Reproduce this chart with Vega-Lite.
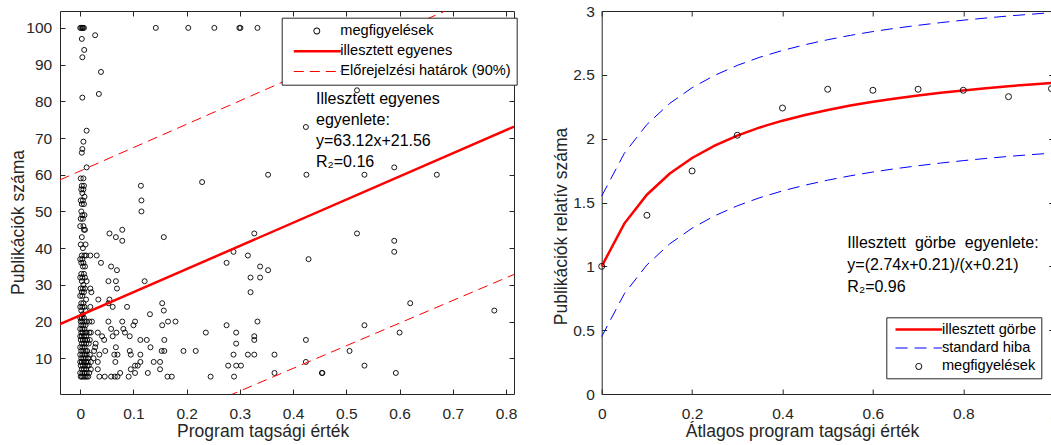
{
"$schema": "https://vega.github.io/schema/vega-lite/v6.json",
"padding": {"left": 8, "top": 3, "right": 0, "bottom": 0},
"bounds": "flush",
"spacing": 87.7,
"config": {
  "view": {"stroke": "#262626", "strokeWidth": 1},
  "font": "Liberation Sans",
  "axis": {"grid": false, "domain": false, "ticks": true, "tickColor": "#262626", "tickSize": -5, "tickWidth": 1, "labelColor": "#262626", "labelFontSize": 15.5, "labelFont": "Liberation Sans", "titleColor": "#262626", "titleFontSize": 17.5, "titleFont": "Liberation Sans", "titleFontWeight": "normal", "labelFlush": false, "labelOverlap": false},
  "legend": {"labelFont": "Liberation Sans", "labelFontSize": 14.6, "labelColor": "black", "labelLimit": 400, "strokeColor": "#262626", "fillColor": "white", "cornerRadius": 0, "symbolSize": 36, "symbolStrokeWidth": 0}
},
"resolve": {"scale": {"x": "independent", "y": "independent", "color": "independent", "shape": "independent"}},
"datasets": {
  "obs1": [
    {"x":0,"y":100},{"x":0.002,"y":100},{"x":0.004,"y":100},{"x":0.005,"y":100},{"x":0.007,"y":100},
    {"x":0.001,"y":59},{"x":0.006,"y":59},{"x":0.003,"y":57},{"x":0.007,"y":57},{"x":0.002,"y":56},{"x":0.006,"y":56},{"x":0.004,"y":55},{"x":0.008,"y":54},{"x":0.001,"y":53},{"x":0.005,"y":53},{"x":0.003,"y":52},{"x":0.007,"y":52},{"x":0.002,"y":50},{"x":0.004,"y":49},{"x":0.008,"y":49},{"x":0.001,"y":48},{"x":0.005,"y":48},{"x":0,"y":46},{"x":0.006,"y":46},{"x":0.009,"y":45},{"x":0.007,"y":45},{"x":0.003,"y":43},{"x":0.001,"y":41},{"x":0.01,"y":41},{"x":0.005,"y":40},{"x":0.003,"y":38},{"x":0.008,"y":38},{"x":0.011,"y":38},{"x":0,"y":37},{"x":0.004,"y":37},{"x":0.002,"y":36},{"x":0.006,"y":36},{"x":0.005,"y":35},{"x":0.009,"y":35},{"x":0.002,"y":33},{"x":0.007,"y":33},{"x":0,"y":32},{"x":0.004,"y":32},{"x":0.009,"y":32},{"x":0.003,"y":31},{"x":0.012,"y":31},{"x":0.006,"y":30},{"x":0.001,"y":29},{"x":0.005,"y":29},{"x":0.009,"y":29},{"x":0.003,"y":28},{"x":0.007,"y":28},{"x":0,"y":27},{"x":0.004,"y":27},{"x":0.011,"y":26},{"x":0.002,"y":25},{"x":0.006,"y":25},{"x":0,"y":24},{"x":0.004,"y":24},{"x":0.008,"y":24},{"x":0.002,"y":23},{"x":0.01,"y":23},{"x":0.005,"y":22},{"x":0,"y":21},{"x":0.003,"y":21},{"x":0.007,"y":21},{"x":0.001,"y":20},{"x":0.004,"y":20},{"x":0.008,"y":20},{"x":0.012,"y":20},{"x":0.002,"y":19},{"x":0.006,"y":19},{"x":0.01,"y":19},{"x":0,"y":18},{"x":0.004,"y":18},{"x":0.008,"y":18},{"x":0.002,"y":17},{"x":0.005,"y":17},{"x":0.009,"y":17},{"x":0.012,"y":17},{"x":0,"y":16},{"x":0.003,"y":16},{"x":0.007,"y":16},{"x":0.011,"y":16},{"x":0.001,"y":15},{"x":0.005,"y":15},{"x":0.009,"y":15},{"x":0.013,"y":15},{"x":0.003,"y":14},{"x":0.007,"y":14},{"x":0.011,"y":14},{"x":0,"y":13},{"x":0.004,"y":13},{"x":0.008,"y":13},{"x":0.002,"y":12},{"x":0.006,"y":12},{"x":0.01,"y":12},{"x":0.013,"y":12},{"x":0,"y":11},{"x":0.004,"y":11},{"x":0.008,"y":11},{"x":0.012,"y":11},{"x":0.002,"y":10},{"x":0.006,"y":10},{"x":0.01,"y":10},{"x":0,"y":9},{"x":0.003,"y":9},{"x":0.007,"y":9},{"x":0.011,"y":9},{"x":0.014,"y":9},{"x":0.001,"y":8},{"x":0.005,"y":8},{"x":0.009,"y":8},{"x":0.013,"y":8},{"x":0.003,"y":7},{"x":0.007,"y":7},{"x":0.011,"y":7},{"x":0,"y":6},{"x":0.004,"y":6},{"x":0.008,"y":6},{"x":0.012,"y":6},{"x":0.001,"y":5},{"x":0.003,"y":5},{"x":0.006,"y":5},{"x":0.009,"y":5},{"x":0.012,"y":5},{"x":0.015,"y":5},
    {"x":0.019,"y":38},{"x":0.019,"y":29},{"x":0.021,"y":28},{"x":0.019,"y":24},{"x":0.017,"y":20},{"x":0.017,"y":17},{"x":0.018,"y":15},{"x":0.016,"y":14},{"x":0.026,"y":12},{"x":0.02,"y":9},{"x":0.018,"y":11},{"x":0.02,"y":7},{"x":0.017,"y":6},{"x":0.022,"y":20},{"x":0.02,"y":17},{"x":0.015,"y":10},{"x":0.016,"y":8},{"x":0.025,"y":10},{"x":0.028,"y":13},
    {"x":0.142,"y":100},{"x":0.203,"y":100},{"x":0.252,"y":100},{"x":0.299,"y":100},{"x":0.301,"y":100},{"x":0.333,"y":100},
    {"x":0.028,"y":98},{"x":0.003,"y":97},{"x":0.0075,"y":94},{"x":0.004,"y":92},{"x":0.039,"y":88},{"x":0.52,"y":83},{"x":0.035,"y":82},{"x":0.004,"y":81},{"x":0.424,"y":73},{"x":0.012,"y":72},{"x":0.006,"y":69},{"x":0.004,"y":67},{"x":0.003,"y":66},{"x":0.012,"y":62},{"x":0.59,"y":62},{"x":0.353,"y":60},{"x":0.425,"y":60},{"x":0.534,"y":60},{"x":0.67,"y":60},{"x":0.229,"y":58},{"x":0.114,"y":57},{"x":0.115,"y":53},{"x":0.115,"y":50},{"x":0.055,"y":44},{"x":0.327,"y":44},{"x":0.52,"y":44},{"x":0.079,"y":45},{"x":0.067,"y":43},{"x":0.157,"y":43},{"x":0.079,"y":42},{"x":0.59,"y":42},{"x":0.288,"y":39},{"x":0.59,"y":39},{"x":0.031,"y":38},{"x":0.315,"y":38},{"x":0.429,"y":37},{"x":0.039,"y":36},{"x":0.275,"y":36},{"x":0.058,"y":35},{"x":0.338,"y":35},{"x":0.069,"y":34},{"x":0.353,"y":34},{"x":0.32,"y":32},{"x":0.338,"y":32},{"x":0.053,"y":31},{"x":0.067,"y":31},{"x":0.121,"y":31},{"x":0.069,"y":29},{"x":0.32,"y":28},{"x":0.034,"y":26},{"x":0.055,"y":26},{"x":0.154,"y":25},{"x":0.053,"y":25},{"x":0.62,"y":25},{"x":0.061,"y":24},{"x":0.088,"y":24},{"x":0.157,"y":23},{"x":0.778,"y":23},{"x":0.131,"y":22},{"x":0.053,"y":20},{"x":0.079,"y":20},{"x":0.103,"y":20},{"x":0.165,"y":20},{"x":0.179,"y":20},{"x":0.333,"y":20},{"x":0.1,"y":19},{"x":0.154,"y":19},{"x":0.275,"y":19},{"x":0.534,"y":19},{"x":0.058,"y":18},{"x":0.081,"y":18},{"x":0.033,"y":17},{"x":0.068,"y":17},{"x":0.084,"y":17},{"x":0.236,"y":17},{"x":0.293,"y":17},{"x":0.6,"y":17},{"x":0.041,"y":16},{"x":0.061,"y":16},{"x":0.093,"y":16},{"x":0.327,"y":16},{"x":0.045,"y":15},{"x":0.113,"y":15},{"x":0.125,"y":15},{"x":0.158,"y":15},{"x":0.327,"y":15},{"x":0.424,"y":15},{"x":0.293,"y":14},{"x":0.029,"y":14},{"x":0.067,"y":13},{"x":0.132,"y":13},{"x":0.047,"y":12},{"x":0.093,"y":12},{"x":0.153,"y":12},{"x":0.158,"y":12},{"x":0.194,"y":12},{"x":0.217,"y":12},{"x":0.506,"y":12},{"x":0.036,"y":11},{"x":0.064,"y":11},{"x":0.07,"y":11},{"x":0.095,"y":11},{"x":0.113,"y":11},{"x":0.288,"y":11},{"x":0.315,"y":11},{"x":0.327,"y":11},{"x":0.365,"y":11},{"x":0.033,"y":9},{"x":0.066,"y":9},{"x":0.113,"y":9},{"x":0.138,"y":9},{"x":0.15,"y":9},{"x":0.424,"y":9},{"x":0.103,"y":8},{"x":0.108,"y":8},{"x":0.278,"y":8},{"x":0.293,"y":8},{"x":0.302,"y":8},{"x":0.534,"y":8},{"x":0.033,"y":7},{"x":0.095,"y":7},{"x":0.15,"y":7},{"x":0.075,"y":6},{"x":0.127,"y":6},{"x":0.103,"y":6},{"x":0.365,"y":6},{"x":0.454,"y":6},{"x":0.455,"y":6},{"x":0.593,"y":6},{"x":0.036,"y":5},{"x":0.046,"y":5},{"x":0.058,"y":5},{"x":0.065,"y":5},{"x":0.07,"y":5},{"x":0.091,"y":5},{"x":0.164,"y":5},{"x":0.172,"y":5},{"x":0.245,"y":5},{"x":0.289,"y":5}
  ],
  "fit1": [{"x":-0.038,"y":19.3},{"x":0.815,"y":73.1}],
  "band1": [
    {"b":"u","x":-0.038,"y":58.6},{"b":"u","x":0.4,"y":86.5},{"b":"u","x":0.85,"y":115},
    {"b":"l","x":0.25,"y":-2.0},{"b":"l","x":0.55,"y":16.5},{"b":"l","x":0.85,"y":35.0}
  ],
  "note1": [
    {"x":0.443,"y":79.16,"t":"Illesztett egyenes"},
    {"x":0.443,"y":73.43,"t":"egyenlete:"},
    {"x":0.443,"y":67.71,"t":"y=63.12x+21.56"},
    {"x":0.443,"y":61.99,"t":"R₂=0.16"}
  ],
  "leg1": [{"s":"megfigyelések"},{"s":"illesztett egyenes"},{"s":"Előrejelzési határok (90%)"}],
  "curve2": [
    {"x":0,"y":1.0},{"x":0.05,"y":1.335},{"x":0.1,"y":1.561},{"x":0.15,"y":1.725},{"x":0.2,"y":1.849},{"x":0.25,"y":1.946},{"x":0.3,"y":2.024},{"x":0.35,"y":2.088},{"x":0.4,"y":2.141},{"x":0.45,"y":2.186},{"x":0.5,"y":2.225},{"x":0.55,"y":2.259},{"x":0.6,"y":2.289},{"x":0.65,"y":2.315},{"x":0.7,"y":2.338},{"x":0.75,"y":2.359},{"x":0.8,"y":2.378},{"x":0.85,"y":2.395},{"x":0.9,"y":2.411},{"x":0.95,"y":2.425},{"x":1.0,"y":2.438}
  ],
  "band2": [
    {"b":"u","x":0,"y":1.55},{"b":"u","x":0.05,"y":1.885},{"b":"u","x":0.1,"y":2.111},{"b":"u","x":0.15,"y":2.275},{"b":"u","x":0.2,"y":2.399},{"b":"u","x":0.25,"y":2.496},{"b":"u","x":0.3,"y":2.574},{"b":"u","x":0.35,"y":2.638},{"b":"u","x":0.4,"y":2.691},{"b":"u","x":0.45,"y":2.736},{"b":"u","x":0.5,"y":2.775},{"b":"u","x":0.55,"y":2.809},{"b":"u","x":0.6,"y":2.839},{"b":"u","x":0.65,"y":2.865},{"b":"u","x":0.7,"y":2.888},{"b":"u","x":0.75,"y":2.909},{"b":"u","x":0.8,"y":2.928},{"b":"u","x":0.85,"y":2.945},{"b":"u","x":0.9,"y":2.961},{"b":"u","x":0.95,"y":2.975},{"b":"u","x":1.0,"y":2.988},
    {"b":"l","x":0,"y":0.45},{"b":"l","x":0.05,"y":0.785},{"b":"l","x":0.1,"y":1.011},{"b":"l","x":0.15,"y":1.175},{"b":"l","x":0.2,"y":1.299},{"b":"l","x":0.25,"y":1.396},{"b":"l","x":0.3,"y":1.474},{"b":"l","x":0.35,"y":1.538},{"b":"l","x":0.4,"y":1.591},{"b":"l","x":0.45,"y":1.636},{"b":"l","x":0.5,"y":1.675},{"b":"l","x":0.55,"y":1.709},{"b":"l","x":0.6,"y":1.739},{"b":"l","x":0.65,"y":1.765},{"b":"l","x":0.7,"y":1.788},{"b":"l","x":0.75,"y":1.809},{"b":"l","x":0.8,"y":1.828},{"b":"l","x":0.85,"y":1.845},{"b":"l","x":0.9,"y":1.861},{"b":"l","x":0.95,"y":1.875},{"b":"l","x":1.0,"y":1.888}
  ],
  "obs2": [
    {"x":0,"y":1.0},{"x":0.1,"y":1.4},{"x":0.2,"y":1.747},{"x":0.3,"y":2.027},{"x":0.4,"y":2.24},{"x":0.5,"y":2.387},{"x":0.6,"y":2.379},{"x":0.7,"y":2.387},{"x":0.8,"y":2.379},{"x":0.9,"y":2.329},{"x":0.995,"y":2.392}
  ],
  "note2": [
    {"x":0.5435,"y":1.14,"t":"Illesztett\u00a0 görbe\u00a0 egyenlete:"},
    {"x":0.5435,"y":0.971,"t":"y=(2.74x+0.21)/(x+0.21)"},
    {"x":0.5435,"y":0.799,"t":"R₂=0.96"}
  ],
  "leg2": [{"s2":"illesztett görbe"},{"s2":"standard hiba"},{"s2":"megfigyelések"}]
},
"hconcat": [
  {
    "width": 454, "height": 383,
    "resolve": {"axis": {"x": "independent", "y": "independent"}},
    "layer": [
      {
        "data": {"name": "obs1"},
        "mark": {"type": "point", "shape": "circle", "filled": false, "size": 25, "strokeWidth": 0.9, "color": "black", "opacity": 1},
        "encoding": {
          "x": {"field": "x", "type": "quantitative", "scale": {"domain": [-0.038, 0.815], "nice": false, "zero": false},
                "axis": {"orient": "bottom", "values": [0,0.1,0.2,0.3,0.4,0.5,0.6,0.7,0.8], "format": "~r", "labelPadding": 17, "title": "Program tagsági érték", "titleX": 202.7, "titleY": 37.7, "titleBaseline": "middle", "titleAlign": "center"}},
          "y": {"field": "y", "type": "quantitative", "scale": {"domain": [0.27, 104.6], "nice": false, "zero": false},
                "axis": {"orient": "left", "values": [10,20,30,40,50,60,70,80,90,100], "format": "~r", "labelPadding": 13.3, "title": "Publikációk száma", "titleX": -42, "titleY": 211, "titleBaseline": "middle", "titleAlign": "center"}}
        }
      },
      {
        "data": {"name": "fit1"},
        "mark": {"type": "line", "color": "#ff0000", "strokeWidth": 2.5, "clip": true},
        "encoding": {
          "x": {"field": "x", "type": "quantitative", "axis": {"orient": "top", "values": [0,0.1,0.2,0.3,0.4,0.5,0.6,0.7,0.8], "labels": false, "title": null}},
          "y": {"field": "y", "type": "quantitative", "axis": {"orient": "right", "values": [10,20,30,40,50,60,70,80,90,100], "labels": false, "title": null}}
        }
      },
      {
        "data": {"name": "band1"},
        "mark": {"type": "line", "color": "#ff0000", "strokeWidth": 1, "strokeDash": [10, 6], "clip": true},
        "encoding": {
          "x": {"field": "x", "type": "quantitative", "axis": null},
          "y": {"field": "y", "type": "quantitative", "axis": null},
          "detail": {"field": "b", "type": "nominal"}
        }
      },
      {
        "data": {"name": "note1"},
        "mark": {"type": "text", "align": "left", "baseline": "alphabetic", "fontSize": 16, "font": "Liberation Sans", "color": "black"},
        "encoding": {
          "x": {"field": "x", "type": "quantitative", "axis": null},
          "y": {"field": "y", "type": "quantitative", "axis": null},
          "text": {"field": "t", "type": "nominal"}
        }
      },
      {
        "data": {"name": "leg1"},
        "transform": [{"filter": "datum.s == null"}],
        "mark": {"type": "point", "filled": true, "opacity": 1},
        "encoding": {
          "color": {"field": "s", "type": "nominal",
                    "scale": {"domain": ["megfigyelések", "illesztett egyenes", "Előrejelzési határok (90%)"], "range": ["black", "#ff0000", "#ff0000"]},
                    "legend": {"orient": "none", "legendX": 221.7, "legendY": 6.7, "title": null, "padding": 6, "labelOffset": 38, "rowPadding": 5.2}},
          "shape": {"field": "s", "type": "nominal",
                    "scale": {"domain": ["megfigyelések", "illesztett egyenes", "Előrejelzési határok (90%)"],
                              "range": ["M8.42,0A1.15,1.15 0 1,1 6.12,0A1.15,1.15 0 1,1 8.42,0Z M8.12,0A0.85,0.85 0 1,0 6.42,0A0.85,0.85 0 1,0 8.12,0Z",
                                        "M-0.4,-0.42H15.27V0.42H-0.4Z",
                                        "M-0.4,-0.17H2.93V0.17H-0.4Z M4.93,-0.17H8.27V0.17H4.93Z M10.27,-0.17H13.6V0.17H10.27Z M15.1,-0.17H15.27V0.17H15.1Z"]}}
        }
      }
    ]
  },
  {
    "width": 452, "height": 383,
    "resolve": {"axis": {"x": "independent", "y": "independent"}},
    "layer": [
      {
        "data": {"name": "curve2"},
        "mark": {"type": "line", "color": "#ff0000", "strokeWidth": 2.5},
        "encoding": {
          "x": {"field": "x", "type": "quantitative", "scale": {"domain": [0, 1], "nice": false, "zero": false},
                "axis": {"orient": "bottom", "values": [0,0.2,0.4,0.6,0.8,1], "format": "~r", "labelPadding": 17, "title": "Átlagos program tagsági érték", "titleX": 200.3, "titleY": 37.7, "titleBaseline": "middle", "titleAlign": "center"}},
          "y": {"field": "y", "type": "quantitative", "scale": {"domain": [0, 3], "nice": false, "zero": false},
                "axis": {"orient": "left", "values": [0,0.5,1,1.5,2,2.5,3], "format": "~r", "labelPadding": 12.4, "title": "Publikációk relatív száma", "titleX": -40.7, "titleY": 215, "titleBaseline": "middle", "titleAlign": "center"}}
        }
      },
      {
        "data": {"name": "band2"},
        "mark": {"type": "line", "color": "#0000ff", "strokeWidth": 1, "strokeDash": [12, 7]},
        "encoding": {
          "x": {"field": "x", "type": "quantitative", "axis": {"orient": "top", "values": [0,0.2,0.4,0.6,0.8,1], "labels": false, "title": null}},
          "y": {"field": "y", "type": "quantitative", "axis": {"orient": "right", "values": [0,0.5,1,1.5,2,2.5,3], "labels": false, "title": null}},
          "detail": {"field": "b", "type": "nominal"}
        }
      },
      {
        "data": {"name": "obs2"},
        "mark": {"type": "point", "shape": "circle", "filled": false, "size": 36, "strokeWidth": 0.9, "color": "black", "opacity": 1},
        "encoding": {
          "x": {"field": "x", "type": "quantitative", "axis": null},
          "y": {"field": "y", "type": "quantitative", "axis": null}
        }
      },
      {
        "data": {"name": "note2"},
        "mark": {"type": "text", "align": "left", "baseline": "alphabetic", "fontSize": 16, "font": "Liberation Sans", "color": "black"},
        "encoding": {
          "x": {"field": "x", "type": "quantitative", "axis": null},
          "y": {"field": "y", "type": "quantitative", "axis": null},
          "text": {"field": "t", "type": "nominal"}
        }
      },
      {
        "data": {"name": "leg2"},
        "transform": [{"filter": "datum.s2 == null"}],
        "mark": {"type": "point", "filled": true, "opacity": 1},
        "encoding": {
          "color": {"field": "s2", "type": "nominal",
                    "scale": {"domain": ["illesztett görbe", "standard hiba", "megfigyelések"], "range": ["#ff0000", "#0000ff", "black"]},
                    "legend": {"orient": "none", "legendX": 284.6, "legendY": 306.3, "title": null, "padding": 5, "labelOffset": 36, "rowPadding": 3.4}},
          "shape": {"field": "s2", "type": "nominal",
                    "scale": {"domain": ["illesztett görbe", "standard hiba", "megfigyelések"],
                              "range": ["M-1.03,-0.42H14.5V0.42H-1.03Z",
                                        "M-1.03,-0.17H3.0V0.17H-1.03Z M5.33,-0.17H9.33V0.17H5.33Z M11.67,-0.17H14.5V0.17H11.67Z",
                                        "M7.88,0A1.15,1.15 0 1,1 5.58,0A1.15,1.15 0 1,1 7.88,0Z M7.58,0A0.85,0.85 0 1,0 5.88,0A0.85,0.85 0 1,0 7.58,0Z"]}}
        }
      }
    ]
  }
]
}
